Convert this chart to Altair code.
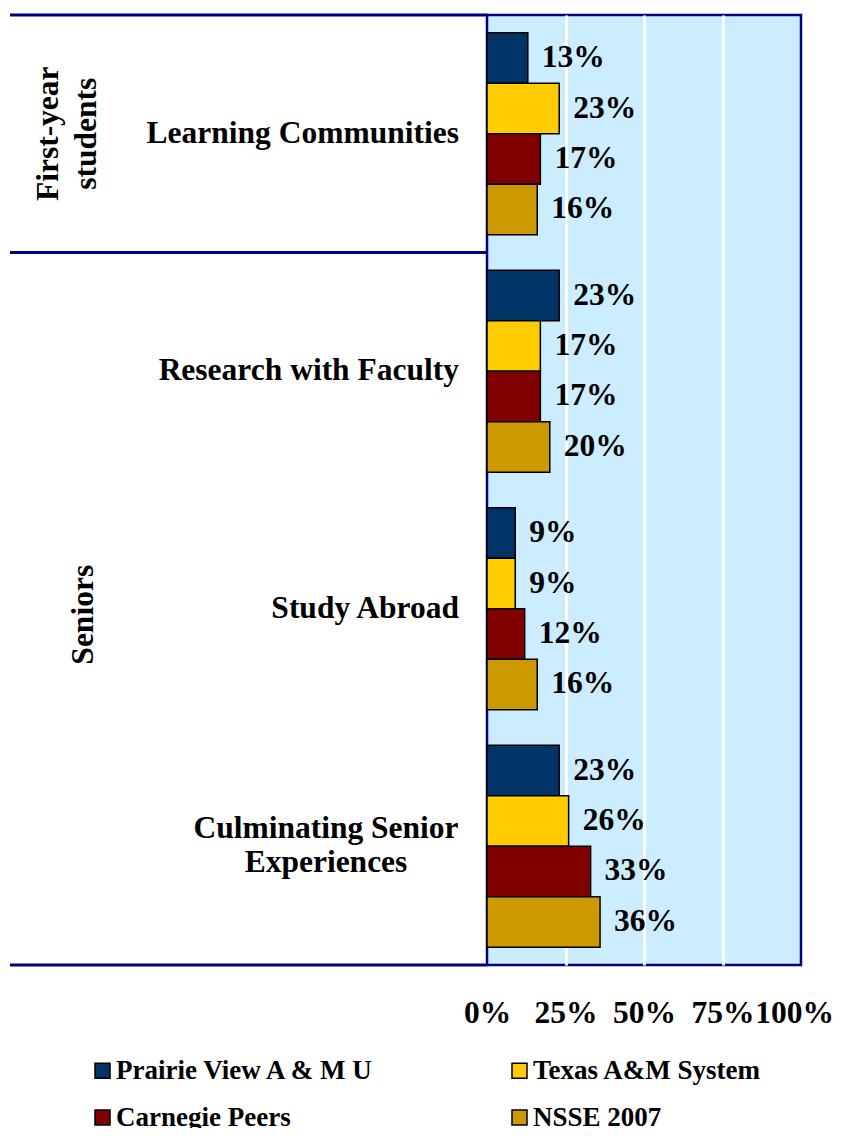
import altair as alt
import pandas as pd

categories = ["Learning Communities", "Research with Faculty", "Study Abroad", "Culminating Senior Experiences"]
series = ["Prairie View A & M U", "Texas A&M System", "Carnegie Peers", "NSSE 2007"]
prairie_view = [13, 23, 9, 23]
texas_am = [23, 17, 9, 26]
carnegie = [17, 17, 12, 33]
nsse_2007 = [16, 20, 16, 36]
colors = ["#003366", "#FFCC00", "#800000", "#CC9900"]
x_ticks = [0, 25, 50, 75, 100]

single_labels = ["Learning Communities", "Research with Faculty", "Study Abroad"]
multi_label_cat = "Culminating Senior Experiences"
multi_label_lines = ["Culminating Senior", "Experiences"]

group_names = [["First-year", "students"], ["Seniors"]]
group_anchor = ["Learning Communities", "Study Abroad"]

FONT = "Liberation Serif"
NAVY = "#000080"
FS = 31.5

rows = []
for s, vals in zip(series, [prairie_view, texas_am, carnegie, nsse_2007]):
    for c, v in zip(categories, vals):
        rows.append({"Category": c, "Series": s, "Value": v, "Label": f"{v}%"})
df = pd.DataFrame(rows)

y_enc = alt.Y("Category:N", sort=categories,
              scale=alt.Scale(paddingInner=0.15, paddingOuter=0.075), axis=None)
yoff = alt.YOffset("Series:N", sort=series, scale=alt.Scale(paddingInner=0, paddingOuter=0))
x_enc = alt.X("Value:Q", scale=alt.Scale(domain=[0, 100], nice=False),
              axis=alt.Axis(values=x_ticks, labelExpr="datum.value + '%'", title=None,
                            domain=False, ticks=False, grid=True,
                            gridColor={"condition": {"test": "datum.value == 0 || datum.value == 100",
                                                     "value": "transparent"}, "value": "white"},
                            gridWidth=3, labelFont=FONT, labelFontSize=FS, labelFontWeight="bold",
                            labelColor="black", labelPadding=32, labelFlush=False,
                            labelOffset={"condition": {"test": "datum.value == 100", "value": -7},
                                         "value": 0},
                            labelOverlap=False))

bars = alt.Chart(df).mark_bar(stroke="black", strokeWidth=1.5).encode(
    x=x_enc, y=y_enc, yOffset=yoff,
    color=alt.Color("Series:N", sort=series,
                    scale=alt.Scale(domain=series, range=colors),
                    legend=alt.Legend(orient="none", legendX=-398, legendY=1042, columns=2,
                                      direction="horizontal",
                                      title=None, symbolType="square", symbolSize=225,
                                      symbolStrokeColor="black", symbolStrokeWidth=1.5,
                                      labelFont=FONT, labelFontSize=27, labelFontWeight="bold",
                                      labelColor="black", labelOffset=0, columnPadding=130,
                                      rowPadding=19, padding=0, labelLimit=400)),
)

values = alt.Chart(df).mark_text(align="left", baseline="middle", dx=14, font=FONT,
                                 fontSize=FS, fontWeight="bold", color="black").encode(
    x="Value:Q", y=y_enc, yOffset=yoff, text="Label:N")

cat_single = alt.Chart(pd.DataFrame({"Category": single_labels, "Text": single_labels})).mark_text(
    align="right", baseline="middle", font=FONT, fontSize=FS, fontWeight="bold", color="black"
).encode(x=alt.value(-28), y=y_enc, text="Text:N")

cat_multi = alt.Chart(pd.DataFrame({"Category": [multi_label_cat], "Text": [multi_label_lines]})).mark_text(
    align="center", baseline="middle", font=FONT, fontSize=FS, fontWeight="bold", color="black",
    lineHeight=34, dy=-17
).encode(x=alt.value(-161), y=y_enc, text="Text:N")

grp1 = alt.Chart(pd.DataFrame({"Category": [group_anchor[0]], "Text": [group_names[0]]})).mark_text(
    align="center", baseline="middle", angle=270, font=FONT, fontSize=FS, fontWeight="bold",
    color="black", lineHeight=38
).encode(x=alt.value(-438), y=y_enc, text="Text:N")

grp2 = alt.Chart(pd.DataFrame({"Category": [group_anchor[1]], "Text": [group_names[1]]})).mark_text(
    align="center", baseline="middle", angle=270, font=FONT, fontSize=FS, fontWeight="bold",
    color="black", dx=-6
).encode(x=alt.value(-403), y=y_enc, text="Text:N")

one = pd.DataFrame({"k": [0]})
rule_top = alt.Chart(one).mark_rule(color=NAVY, strokeWidth=3).encode(
    x=alt.value(-477), x2=alt.value(0), y=alt.value(0))
rule_mid = alt.Chart(one).mark_rule(color=NAVY, strokeWidth=3).encode(
    x=alt.value(-477), x2=alt.value(0), y=alt.value(237.5))
rule_bot = alt.Chart(one).mark_rule(color=NAVY, strokeWidth=3).encode(
    x=alt.value(-477), x2=alt.value(0), y=alt.value(950))

chart = alt.layer(bars, values, cat_single, cat_multi, grp1, grp2, rule_top, rule_mid, rule_bot).properties(
    width=314, height=950, autosize="none", background="white",
    padding={"left": 479, "top": 7, "right": 33, "bottom": 163},
).configure_view(fill="#CCECFF", stroke=NAVY, strokeWidth=2.5)

chart.save("out.html", embed_options={"renderer": "svg", "actions": False})
